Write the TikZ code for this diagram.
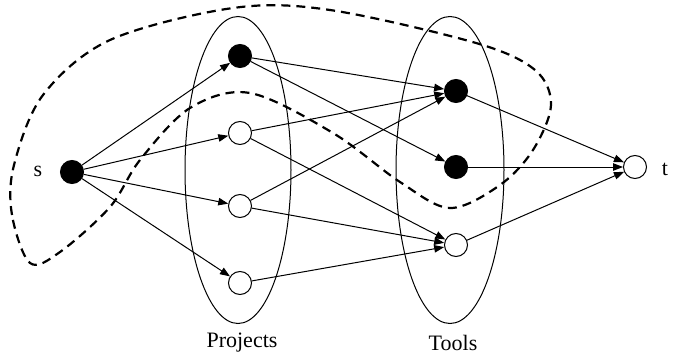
\documentclass[tikz,border=0pt]{standalone}
\usepackage{fontspec}
\setmainfont{Liberation Serif}
\usetikzlibrary{arrows.meta,shapes.geometric}
\begin{document}
\begin{tikzpicture}[x=1pt,y=-1pt,
  vtx/.style={circle,draw,line width=1pt,minimum size=23pt,inner sep=0pt},
  full/.style={vtx,fill=black},
  open/.style={vtx,fill=white},
  edge/.style={line width=1pt,-{Triangle[length=10pt,width=7.5pt]}},
  group/.style={draw,ellipse,line width=1pt,inner sep=0pt},
  lbl/.style={font=\fontsize{22}{26}\selectfont,inner sep=0pt},
  cut/.style={line width=2.2pt,dash pattern=on 9pt off 6pt}]
\useasboundingbox (0,0) rectangle (673,356);
% groups
\node[group,minimum width=106pt,minimum height=307pt] (projects) at (238,170) {};
\node[group,minimum width=108pt,minimum height=307pt] (tools) at (450,170) {};
% cut
\draw[cut] plot[smooth cycle,tension=0.55] coordinates {
  (30,263) (12,215) (14,165) (43,95) (110,40) (233,8) (330,10) (476,43)
  (535,70) (551,105) (533,150) (500,185) (450,208) (400,182) (333,133)
  (250,93) (190,108) (140,160) (110,207) (60,252)};
% vertices
\node[full] (s) at (72,172) {};
\node[full] (p1) at (240,56) {};
\node[open] (p2) at (240,133) {};
\node[open] (p3) at (240,206) {};
\node[open] (p4) at (240,283) {};
\node[full] (t1) at (456,91) {};
\node[full] (t2) at (456,167) {};
\node[open] (t3) at (456,245) {};
\node[open] (t) at (635,167) {};
% labels
\node[lbl] (slbl) at (38,171) {s};
\node[lbl] (tlbl) at (665,169) {t};
\node[lbl] (plbl) at (242,343) {Projects};
\node[lbl] (tolbl) at (453,343) {Tools};
% edges
\foreach \a/\b in {s/p1,s/p2,s/p3,s/p4,p1/t1,p1/t2,p2/t1,p2/t3,p3/t1,p3/t3,p4/t3,t1/t,t2/t,t3/t}
  \draw[edge] (\a) -- (\b);
\end{tikzpicture}
\end{document}
